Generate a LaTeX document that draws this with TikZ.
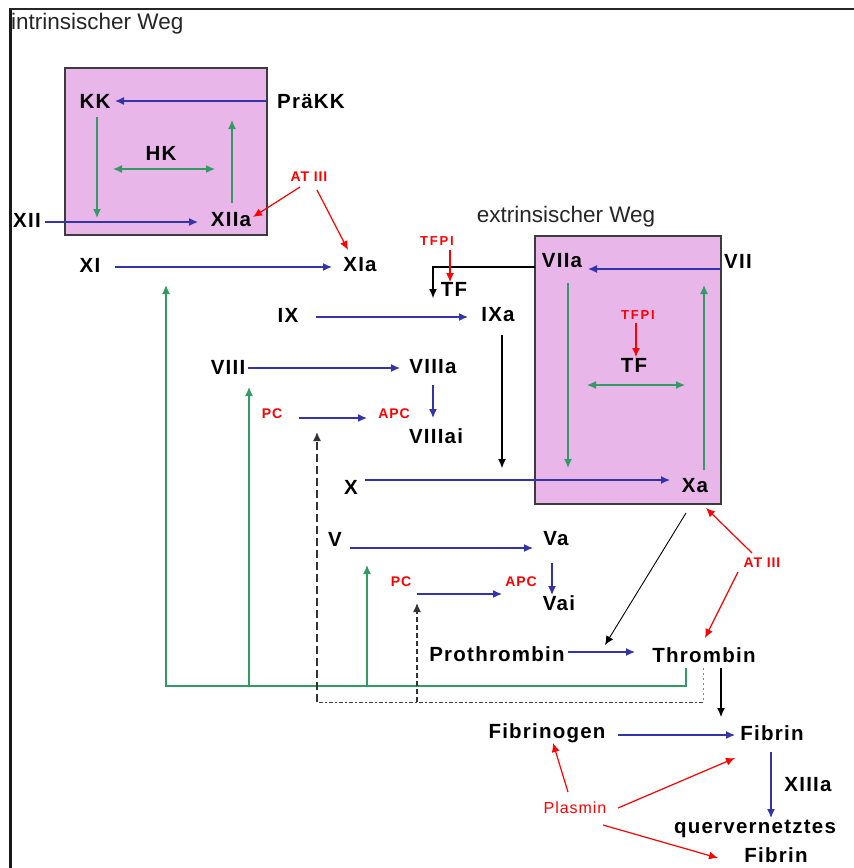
\documentclass[tikz,border=0pt]{standalone}
\usepackage{fontspec}
\setmainfont{Liberation Sans}
\newfontfamily\lsp[LetterSpace=6]{Liberation Sans}
\newfontfamily\lspw[LetterSpace=14]{Liberation Sans}
\usetikzlibrary{arrows.meta}
\definecolor{cblue}{RGB}{51,51,170}
\definecolor{cgreen}{RGB}{50,155,100}
\definecolor{boxfill}{RGB}{233,182,233}
\definecolor{boxborder}{RGB}{60,60,60}
\definecolor{corange}{RGB}{215,110,40}
\begin{document}
\begin{tikzpicture}[x=1pt,y=-1pt,
  lab/.style={font=\lsp\bfseries\fontsize{20.5}{22}\selectfont, inner sep=0pt},
  rlab/.style={text=red, font=\lsp\bfseries\fontsize{14}{16}\selectfont, inner sep=0pt},
  tfpi/.style={text=red, font=\lspw\bfseries\fontsize{13}{15}\selectfont, inner sep=0pt},
  plas/.style={text=red, font=\lsp\fontsize{16}{18}\selectfont, inner sep=0pt},
  ttl/.style={font=\fontsize{22.5}{24}\selectfont, text=black!85, inner sep=0pt},
  panel/.style={draw=boxborder, line width=2pt, fill=boxfill, inner sep=0pt},
  ar/.style={-{Latex[length=9pt,width=8pt]}, line width=1.3pt},
  bar/.style={ar, draw=cblue},
  gar/.style={ar, draw=cgreen},
  gdar/.style={{Latex[length=9pt,width=8pt]}-{Latex[length=9pt,width=8pt]}, line width=1.3pt, draw=cgreen},
  kar/.style={ar, draw=black, line width=1.1pt},
  rar/.style={ar, draw=red, line width=1.2pt},
]
\useasboundingbox (0,0) rectangle (854,868);
\fill[white] (0,0) rectangle (854,868);
% frame
\draw[line width=3pt, black!90] (10,868) -- (10,8);
\draw[line width=2pt, black!85] (9,9) -- (854,9);

% panels
\node[panel, minimum width=202pt, minimum height=167pt] (box1) at (166,151.5) {};
\node[panel, minimum width=186pt, minimum height=268pt] (box2) at (628,370) {};

% titles
\node[ttl, anchor=west] (intr) at (11,24) {intrinsischer Weg};
\node[ttl] (extr) at (566,217) {extrinsischer Weg};

% labels
\node[lab] (KK) at (95,101) {KK};
\node[lab] (PraeKK) at (311,101) {PräKK};
\node[lab] (HK) at (161,153) {HK};
\node[lab] (XII) at (27,220) {XII};
\node[lab] (XIIa) at (231,220) {XIIa};
\node[rlab] (ATa) at (309,177) {AT III};
\node[lab] (XI) at (90,265) {XI};
\node[lab] (XIa) at (360,265) {XIa};
\node[tfpi] (TFPIa) at (437,241) {TFPI};
\node[lab] (TFa) at (454,289) {TF};
\node[lab] (IX) at (288,315) {IX};
\node[lab] (IXa) at (498,315) {IXa};
\node[lab] (VIIa) at (562,261) {VIIa};
\node[lab] (VII) at (738,261) {VII};
\node[tfpi] (TFPIb) at (638,315) {TFPI};
\node[lab] (TFb) at (634,365) {TF};
\node[lab] (VIII) at (228,367) {VIII};
\node[lab] (VIIIa) at (433,367) {VIIIa};
\node[rlab] (PCa) at (272,414) {PC};
\node[rlab] (APCa) at (394,414) {APC};
\node[lab] (VIIIai) at (436,436) {VIIIai};
\node[lab] (X) at (351,487) {X};
\node[lab] (Xa) at (695,486) {Xa};
\node[lab] (V) at (335,539) {V};
\node[lab] (Va) at (556,539) {Va};
\node[rlab] (ATb) at (762,563) {AT III};
\node[rlab] (PCb) at (401,582) {PC};
\node[rlab] (APCb) at (521,582) {APC};
\node[lab] (Vai) at (559,603) {Vai};
\node[lab] (Proth) at (497,654) {Prothrombin};
\node[lab] (Thromb) at (704,655) {Thrombin};
\node[lab] (Fibrinogen) at (547,733) {Fibrinogen};
\node[lab] (Fibrin) at (772,733) {Fibrin};
\node[lab] (XIIIa) at (808,785) {XIIIa};
\node[plas] (Plasmin) at (575,808) {Plasmin};
\node[lab] (qv) at (755,829) {quervernetztes};
\node[lab] (qvF) at (776,855) {Fibrin};

% ---- intrinsic box
\draw[bar] ([shift={(-44,0)}]PraeKK.center) -- ([shift={(20,0)}]KK.center);
\draw[bar] ([shift={(18,2)}]XII.center) -- ([shift={(-33,2)}]XIIa.center);
\draw[gar] ([shift={(2,16)}]KK.center) -- ([shift={(70,-2)}]XII.center);
\draw[gar] ([shift={(1,-17)}]XIIa.center) -- ([shift={(137,19)}]KK.center);
\draw[gdar] ([shift={(-48,16)}]HK.center) -- ([shift={(54,16)}]HK.center);
\draw[rar] ([shift={(-9,10)}]ATa.center) -- ([shift={(22,-3)}]XIIa.center);
\draw[rar] ([shift={(8,13)}]ATa.center) -- ([shift={(-12,-15)}]XIa.center);
\draw[bar] ([shift={(25,2)}]XI.center) -- ([shift={(-28,2)}]XIa.center);

% ---- extrinsic
\draw[kar] ([shift={(-27,6)}]VIIa.center) -| ([shift={(-21,9)}]TFa.center);
\draw[rar] ([shift={(13,9)}]TFPIa.center) -- ([shift={(-4,-7)}]TFa.center);
\draw[bar] ([shift={(-17,8)}]VII.center) -- ([shift={(26,8)}]VIIa.center);
\draw[rar] ([shift={(-2,8)}]TFPIb.center) -- ([shift={(2,-8)}]TFb.center);
\draw[gdar] ([shift={(-47,20)}]TFb.center) -- ([shift={(51,20)}]TFb.center);
\draw[gar] ([shift={(6,22)}]VIIa.center) -- ([shift={(6,207)}]VIIa.center);
\draw[gar] ([shift={(9,-16)}]Xa.center) -- ([shift={(9,-201)}]Xa.center);

% ---- middle
\draw[bar] ([shift={(28,2)}]IX.center) -- ([shift={(-30,2)}]IXa.center);
\draw[bar] ([shift={(20,1)}]VIII.center) -- ([shift={(-33,1)}]VIIIa.center);
\draw[bar] ([shift={(0,18)}]VIIIa.center) -- ([shift={(-3,-18)}]VIIIai.center);
\draw[bar] ([shift={(27,4)}]PCa.center) -- ([shift={(-27,4)}]APCa.center);
\draw[kar] ([shift={(4,20)}]IXa.center) -- ([shift={(151,-19)}]X.center);
\draw[bar] ([shift={(14,-7)}]X.center) -- ([shift={(-25,-6)}]Xa.center);
\draw[bar] ([shift={(15,9)}]V.center) -- ([shift={(-23,9)}]Va.center);
\draw[bar] ([shift={(-4,24)}]Va.center) -- ([shift={(-7,-8)}]Vai.center);
\draw[bar] ([shift={(16,12)}]PCb.center) -- ([shift={(-19,12)}]APCb.center);
\draw[kar, line width=0.9pt] ([shift={(-9,27)}]Xa.center) -- ([shift={(108,-9)}]Proth.center);
\draw[rar] ([shift={(-10,-10)}]ATb.center) -- ([shift={(11,22)}]Xa.center);
\draw[rar] ([shift={(-24,9)}]ATb.center) -- ([shift={(1,-17)}]Thromb.center);
\draw[bar] ([shift={(71,-2)}]Proth.center) -- ([shift={(-69,-3)}]Thromb.center);
\draw[kar] ([shift={(17,13)}]Thromb.center) -- ([shift={(-51,-16)}]Fibrin.center);

% ---- green feedback from thrombin
\draw[gar] ([shift={(-18,13)}]Thromb.center) |- ([shift={(76,421)}]XI.center) -- ([shift={(76,20)}]XI.center);
\draw[gar] ([shift={(21,319)}]VIII.center) -- ([shift={(21,20)}]VIII.center);
\draw[gar] ([shift={(32,147)}]V.center) -- ([shift={(32,26)}]V.center);

% ---- dashed feedback to protein C
\draw[corange, line width=1pt, dash pattern=on 2pt off 3pt] ([shift={(-1,13)}]Thromb.center) -- ([shift={(-1,47)}]Thromb.center);
\draw[black!75, line width=1pt, dash pattern=on 4pt off 2pt on 2pt off 2pt] ([shift={(-1,47)}]Thromb.center) -- ([shift={(45,288)}]PCa.center);
\draw[ar, black!80, line width=1.4pt, dash pattern=on 8pt off 4pt] ([shift={(45,288)}]PCa.center) -- ([shift={(45,18)}]PCa.center);
\draw[ar, black!80, line width=1.3pt, dash pattern=on 5pt off 3pt] ([shift={(16,120)}]PCb.center) -- ([shift={(16,21)}]PCb.center);

% ---- fibrin
\draw[bar] ([shift={(71,2)}]Fibrinogen.center) -- ([shift={(-37,2)}]Fibrin.center);
\draw[bar] ([shift={(-1,19)}]Fibrin.center) -- ([shift={(16,-11)}]qv.center);
\draw[rar] ([shift={(-7,-16)}]Plasmin.center) -- ([shift={(6,10)}]Fibrinogen.center);
\draw[rar] ([shift={(43,0)}]Plasmin.center) -- ([shift={(-37,25)}]Fibrin.center);
\draw[rar] ([shift={(28,17)}]Plasmin.center) -- ([shift={(-58,3)}]qvF.center);
\end{tikzpicture}
\end{document}
